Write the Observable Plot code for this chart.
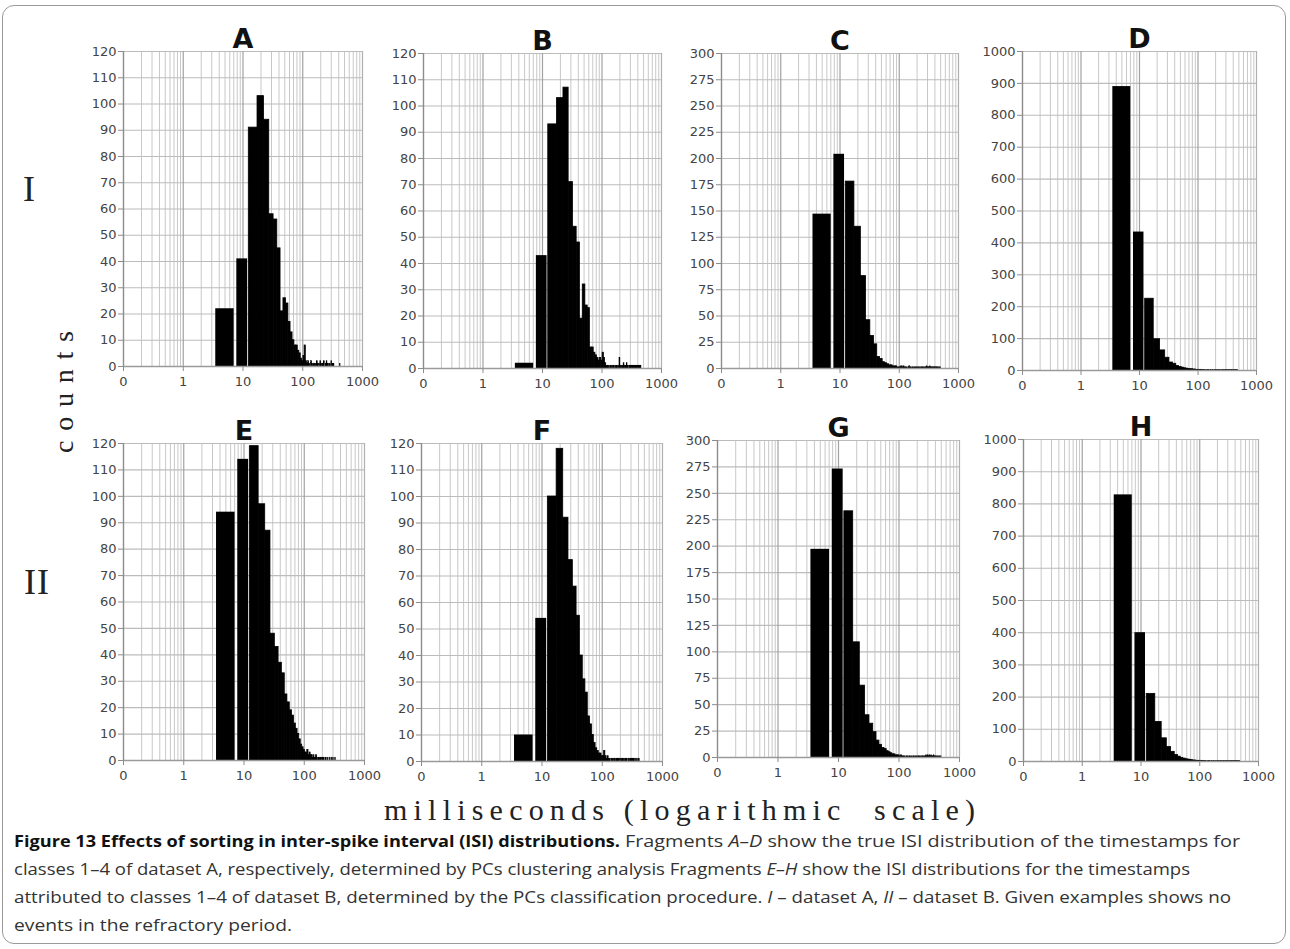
<!DOCTYPE html>
<html><head><meta charset="utf-8">
<script src="https://cdn.jsdelivr.net/npm/d3@7"></script>
<script src="https://cdn.jsdelivr.net/npm/@observablehq/plot@0.6"></script>
<style>
body{margin:0;background:#fff;}
#fig{position:relative;width:1290px;height:949px;overflow:hidden;background:#fff;}
#frame{position:absolute;left:2px;top:5px;width:1284px;height:939px;border:1px solid #9a9a9a;border-radius:12px;box-sizing:border-box;}
svg{overflow:visible;}
</style></head><body><div id="fig"><div id="frame"></div></div>
<script>
// ---------------- data ----------------
const panelNames = ["A","B","C","D","E","F","G","H"];
const yMax  = [120,120,300,1000,120,120,300,1000];
const yStep = [10,10,25,100,10,10,25,100];
const xTicks = [0.1,1,10,100,1000];
const xTickLabels = ["0","1","10","100","1000"];
const firstBin = [3.5, 7.5];   // ms, first histogram bin
const binWidth = 5;            // ms, following bins
const rowLabels = ["I","II"];

const countsA = [22,41,91,103,94,58,56,45,21,26,
 24,17,13,10,8,8,6,5,3,2,
 4,8,2,1,2,1,0,2,1,0,
 1,1,0,1,2,1,0,1,0,2,
 1,0,1,1,0,2,0,0,1,0,
 2,0,1,0,0,1,0,1,0,0,
 2,0,0,1,0,0,1,0,0,0,
 0,0,0,0,0,0,0,0,0,0,
 0,0,0,0,1];
const countsB = [2,43,93,103,107,71,54,48,19,32,
 24,23,8,8,6,5,4,3,4,3,
 6,4,2,1,1,1,0,1,1,0,
 1,1,0,1,0,1,0,1,0,4,
 1,0,1,0,1,0,2,1,0,1,
 1,0,2,0,1,0,0,1,1,0,
 1,1,0,1,1,0,1,1,0,1,
 1,0,1,1,0,1,1,0,1,1,
 0,1,1,0,1,1,0,1,1,0,
 1];
const countsC = [147,204,178,135,88,46,31,23,11,9,
 6,5,4,3,3,2,2,2,1,1,
 1,2,1,2,1,1,1,0,1,2,
 1,1,0,1,1,0,1,1,0,1,
 1,0,1,1,0,1,0,1,1,0,
 1,1,0,1,0,1,1,0,2,1,
 1,0,1,1,0,1,2,1,0,1,
 1,0,1,1,0,1,0,1,1,0,
 1,0,1,0,1,1,0,1,0,1,
 0,1,0,0,1,0,1,0,0,1];
const countsD = [890,434,225,98,63,40,25,21,14,11,
 9,7,6,5,4,4,3,3,2,2,
 2,1,2,1,1,1,1,0,1,1,
 1,0,1,1,0,1,1,0,1,0,
 1,1,0,1,0,1,1,0,1,0,
 1,0,1,1,0,1,0,1,0,1,
 1,0,1,0,1,0,1,1,0,1,
 0,1,0,1,0,1,1,0,1,0,
 1,0,1,0,1,0,1,0,1,1,
 0,1,0,1,0,1];
const countsE = [94,114,119,97,87,48,43,37,33,25,
 22,19,17,14,12,10,8,6,5,4,
 3,3,4,2,3,2,2,1,2,1,
 1,2,1,0,1,1,0,1,0,1,
 1,0,1,0,0,1,0,0,1,0,
 0,0,1,0,0,0,1,0,0,0,
 1,0,0,0,0,1];
const countsF = [10,54,100,118,92,76,66,55,40,31,
 26,17,14,10,7,5,4,3,3,2,
 2,4,2,1,2,1,1,0,1,1,
 0,1,1,0,1,0,1,1,0,1,
 0,1,0,1,1,0,1,0,0,1,
 0,1,0,0,1,0,1,0,0,1,
 0,0,1,0,1,0,0,1,0,0,
 1,0,0,1,0,0,1,0,0,0,
 1,0,1];
const countsG = [197,273,233,109,68,40,32,24,16,12,
 9,8,6,5,4,3,3,2,2,2,
 1,2,1,1,1,0,1,1,0,1,
 1,0,1,0,1,1,0,1,0,1,
 0,1,1,0,1,0,1,0,1,1,
 0,1,0,1,0,1,2,1,0,1,
 2,1,1,0,2,1,0,1,2,1,
 1,0,1,1,0,2,1,0,1,0,
 1,0,1,0,0,1,0,1,0,0,
 1,0,0,1,0,0,1,0,0,1];
const countsH = [828,400,210,123,72,45,30,20,15,11,
 9,7,6,5,4,3,3,2,2,2,
 1,2,1,1,1,1,0,1,1,1,
 0,1,1,0,1,1,0,1,0,1,
 1,0,1,0,1,1,0,1,0,1,
 0,1,1,0,1,0,1,1,0,1,
 0,1,0,1,1,0,1,0,1,0,
 1,1,0,1,0,1,0,1,0,1,
 1,0,1,0,1,0,1,0,1,0,
 1,0,1,0,1,1];
const allCounts = [countsA,countsB,countsC,countsD,countsE,countsF,countsG,countsH];

// ---------------- layout ----------------
const layout = [
 {x0:123, x1:362, y0:51, y1:366},
 {x0:423, x1:661, y0:53, y1:368},
 {x0:721, x1:958, y0:53, y1:368},
 {x0:1022,x1:1256,y0:51, y1:370},
 {x0:123, x1:364, y0:443,y1:760},
 {x0:421, x1:662, y0:443,y1:761},
 {x0:717, x1:959, y0:440,y1:757},
 {x0:1023,x1:1258,y0:439,y1:761}
];
const ML = 46, MR = 24, MT = 38, MB = 30;
const minorGrid = [0.1,1,10,100].flatMap(d => [2,3,4,5,6,7,8,9].map(m => +(d*m).toPrecision(3)));
const decadeGrid = [1,10,100];

const fig = document.getElementById("fig");

panelNames.forEach((name, p) => {
  const L = layout[p];
  const W = L.x1 - L.x0 + ML + MR, H = L.y1 - L.y0 + MT + MB;
  const bins = allCounts[p].map((c, i) => ({
    i, count: c,
    lo: i === 0 ? firstBin[0] : firstBin[1] + binWidth * (i - 1),
    hi: i === 0 ? firstBin[1] : firstBin[1] + binWidth * i
  })).filter(d => d.count > 0);
  const yt = d3.range(0, yMax[p] + 1e-9, yStep[p]);
  const chart = Plot.plot({
    width: W, height: H,
    marginLeft: ML, marginRight: MR, marginTop: MT, marginBottom: MB,
    x: {type: "log", domain: [0.1, 1000]},
    y: {domain: [0, yMax[p]]},
    style: {fontFamily: "DejaVu Sans", fontSize: "13px", background: "transparent", color: "#444"},
    marks: [
      Plot.ruleX(minorGrid, {stroke: "#c8c8c8", strokeWidth: 1}),
      Plot.ruleY(yt, {stroke: "#bcbcbc", strokeWidth: 1.1}),
      Plot.ruleX(decadeGrid, {stroke: "#a2a2a2", strokeWidth: 1.2}),
      Plot.ruleX([1000], {stroke: "#b0b0b0", strokeWidth: 1.2}),
      Plot.rect(bins.filter(d => d.i === 0), {x1: "lo", x2: "hi", y1: 0, y2: "count", fill: "black", insetRight: 1.4}),
      Plot.rect(bins.filter(d => d.i === 1), {x1: "lo", x2: "hi", y1: 0, y2: "count", fill: "black", insetLeft: 1.3, insetRight: 1.2}),
      Plot.rect(bins.filter(d => d.i >= 2), {x1: "lo", x2: "hi", y1: 0, y2: "count", fill: "black", stroke: "black", strokeWidth: 0.8}),
      Plot.ruleX([0.1], {stroke: "#8c8c8c", strokeWidth: 1.4}),
      Plot.ruleY([0], {stroke: "#9a9a9a", strokeWidth: 1.3}),
      Plot.axisY({ticks: yt, tickFormat: d => String(d), tickSize: 5, tickPadding: 2, stroke: "#8c8c8c", fill: "#444", fontSize: 13, label: null}),
      Plot.axisX({ticks: xTicks, tickFormat: d => xTickLabels[xTicks.indexOf(d)], tickSize: 5, tickPadding: 5, stroke: "#8c8c8c", fill: "#444", fontSize: 13, label: null}),
      Plot.text([name], {frameAnchor: "top", lineAnchor: "bottom", dy: -4, fontSize: 27, fontWeight: "bold", fill: "#111", fontFamily: "DejaVu Sans"})
    ]
  });
  chart.style.position = "absolute";
  chart.style.left = (L.x0 - ML) + "px";
  chart.style.top = (L.y0 - MT) + "px";
  fig.appendChild(chart);
});

// ---------------- overlay texts ----------------
const NS = "http://www.w3.org/2000/svg";
const ov = document.createElementNS(NS, "svg");
ov.setAttribute("width", 1290); ov.setAttribute("height", 949);
ov.style.position = "absolute"; ov.style.left = "0px"; ov.style.top = "0px";
fig.appendChild(ov);
function addText(html, attrs) {
  const t = document.createElementNS(NS, "text");
  for (const k in attrs) t.setAttribute(k, attrs[k]);
  t.innerHTML = html;
  ov.appendChild(t);
  return t;
}
const serif = "'Liberation Serif', 'DejaVu Serif', serif";
addText(rowLabels[0], {x: 29, y: 201, "font-family": serif, "font-size": 36, "text-anchor": "middle", fill: "#222"});
addText(rowLabels[1], {x: 37, y: 594, "font-family": serif, "font-size": 36, "text-anchor": "middle", fill: "#222", "letter-spacing": 1});
addText("counts", {transform: "translate(73,392) rotate(-90)", "font-family": serif, "font-size": 28, "text-anchor": "middle", fill: "#222", textLength: 122, lengthAdjust: "spacing"});
addText("milliseconds (logarithmic&#160;&#160;scale)", {x: 384, y: 820, "font-family": serif, "font-size": 30, fill: "#222", textLength: 591, lengthAdjust: "spacing"});

const capFont = "'Open Sans', 'Liberation Sans', sans-serif";
const capAttrs = (x, y, len, extra) => Object.assign({x, y, "font-family": capFont, "font-size": 16.5, textLength: len, lengthAdjust: "spacingAndGlyphs", fill: "#333"}, extra || {});
addText("Figure 13 Effects of sorting in inter-spike interval (ISI) distributions.", capAttrs(14, 847, 606, {"font-weight": "bold", fill: "#111"}));
addText("Fragments <tspan font-style='italic'>A–D</tspan> show the true ISI distribution of the timestamps for", capAttrs(625, 847, 615));
addText("classes 1–4 of dataset A, respectively, determined by PCs clustering analysis Fragments <tspan font-style='italic'>E–H</tspan> show the ISI distributions for the timestamps", capAttrs(14, 875, 1176));
addText("attributed to classes 1–4 of dataset B, determined by the PCs classification procedure. <tspan font-style='italic'>I</tspan> – dataset A, <tspan font-style='italic'>II</tspan> – dataset B. Given examples shows no", capAttrs(14, 903, 1217));
addText("events in the refractory period.", capAttrs(14, 931, 278));
</script></body></html>
